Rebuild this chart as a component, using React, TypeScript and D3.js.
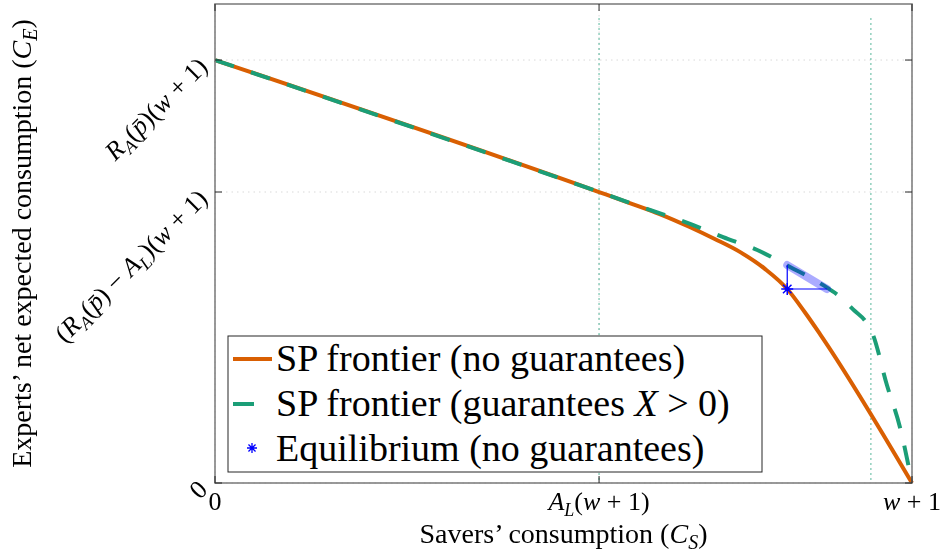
import React from 'react';
import * as d3 from 'd3';

// ---- data (normalised units: x in [0, w+1], y in expert consumption units) ----
const spNoGuarX = [0, 0.551, 0.595, 0.638, 0.681, 0.717, 0.753, 0.789, 0.821, 0.846, 0.868, 1.0];
const spNoGuarY = [1.766, 1.215, 1.169, 1.123, 1.069, 1.019, 0.965, 0.894, 0.810, 0.714, 0.622, 0];
const spGuarX = [0, 0.551, 0.588, 0.624, 0.674, 0.729, 0.778, 0.825, 0.872, 0.897, 0.918, 0.933, 0.943, 0.964, 0.983, 1.0];
const spGuarY = [1.766, 1.215, 1.177, 1.140, 1.090, 1.027, 0.973, 0.902, 0.827, 0.777, 0.718, 0.676, 0.626, 0.409, 0.230, 0];
const equilibrium = [0.821, 0.810];
const triangleTop = [0.821, 0.910];
const triangleRight = [0.878, 0.810];
const refLineX = [0.551, 0.941];
const refLineTop = 1.94;

const xTicks = [0, 0.551, 1];
const xTickLabels = ['0', '$A_L(w+1)$', '$w+1$'];
const yTicks = [0, 1.215, 1.766];
const yTickLabels = ['0', '$(R_A(p\u0304)\u2212A_L)(w+1)$', '$R_A(p\u0304)(w+1)$'];
const xLabel = 'Savers\u2019 consumption ($C_S$)';
const yLabel = 'Experts\u2019 net expected consumption ($C_E$)';
const legendLabels = ['SP frontier (no guarantees)', 'SP frontier (guarantees $X>0$)', 'Equilibrium (no guarantees)'];

const ORANGE = '#d95f02';
const GREEN = '#1b9e77';
const BLUE = '#0000ff';
const F = "'Liberation Serif'";

type Tok = { t: string; it: boolean; sub: boolean };
function tokenize(str: string): Tok[] {
  const out: Tok[] = [];
  let math = false;
  let buf = '';
  const flush = () => { if (buf) { out.push({ t: buf, it: false, sub: false }); buf = ''; } };
  for (let i = 0; i < str.length; i++) {
    const c = str[i];
    if (c === '$') { flush(); math = !math; continue; }
    if (!math) { buf += c; continue; }
    if (c === '_') { const n = str[i + 1]; i++; flush(); out.push({ t: n, it: /[A-Za-z]/.test(n), sub: true }); continue; }
    if (/[A-Za-z]/.test(c)) {
      flush();
      let t = c;
      if (str[i + 1] === '\u0304') { t += '\u0304'; i++; }
      out.push({ t, it: true, sub: false });
      continue;
    }
    if (c === '+' || c === '\u2212' || c === '>') { buf += ' ' + c + ' '; continue; }
    buf += c;
  }
  flush();
  return out;
}

function Rich({ str, fs, ...rest }: any) {
  const toks = tokenize(str);
  let cur = 0;
  const sub = fs * 0.22;
  return (
    <text {...rest} className="lbl" fontFamily="Liberation Serif" fontSize={fs} fill="#000" style={{ fontFamily: F }}>
      {toks.map((k, i) => {
        const target = k.sub ? sub : 0;
        const dy = target - cur;
        cur = target;
        return (
          <tspan key={i} dy={dy !== 0 ? dy : undefined} fontFamily="Liberation Serif" fontStyle={k.it ? 'italic' : 'normal'} fontSize={k.sub ? Math.round(fs * 0.7) : fs}>
            {k.t}
          </tspan>
        );
      })}
    </text>
  );
}

function starPath(cx: number, cy: number, r: number) {
  const d = r * 0.7071;
  return `M${cx - r},${cy}L${cx + r},${cy}M${cx},${cy - r}L${cx},${cy + r}M${cx - d},${cy - d}L${cx + d},${cy + d}M${cx - d},${cy + d}L${cx + d},${cy - d}`;
}

export default function App() {
  const W = 941, H = 552;
  const L = 215, R = 912, T = 4, B = 483;
  const x = d3.scaleLinear().domain([0, 1]).range([L, R]);
  const y = d3.scaleLinear().domain([0, 2]).range([B, T]);

  const line = d3.line<[number, number]>().x(d => x(d[0])).y(d => y(d[1])).curve(d3.curveMonotoneX);
  const orangePts = spNoGuarX.map((v, i) => [v, spNoGuarY[i]] as [number, number]);
  const greenPts = spGuarX.map((v, i) => [v, spGuarY[i]] as [number, number]);

  const tickLen = 7;
  const axisColor = '#808080';
  const tickColor = '#262626';

  return (
    <svg id="chart" width={W} height={H} fontFamily="Liberation Serif" style={{ position: 'fixed', left: 0, top: 0, fontFamily: F }}>
      <style>{`svg#chart text.lbl, svg#chart text.lbl tspan { font-family: 'Liberation Serif', serif !important; }`}</style>
      {yTicks.map((t, i) => (
        <line key={'gy' + i} x1={L} x2={R} y1={y(t)} y2={y(t)} stroke="#d9d9d9" strokeWidth={1} strokeDasharray="1.5,4" />
      ))}
      {xTicks.map((t, i) => (
        <line key={'gx' + i} x1={x(t)} x2={x(t)} y1={T} y2={B} stroke="#d9d9d9" strokeWidth={1} strokeDasharray="1.5,4" />
      ))}
      {refLineX.map((v, i) => (
        <line key={'rl' + i} x1={x(v)} x2={x(v)} y1={y(refLineTop)} y2={y(0)} stroke={GREEN} strokeOpacity={0.75} strokeWidth={1.3} strokeDasharray="1.5,3.5" />
      ))}
      <path d={line(orangePts) || ''} fill="none" stroke={ORANGE} strokeWidth={4} strokeLinejoin="round" />
      <path d={line(greenPts) || ''} fill="none" stroke={GREEN} strokeWidth={4} strokeDasharray="20,18" />
      <line x1={x(triangleTop[0])} y1={y(triangleTop[1])} x2={x(triangleRight[0])} y2={y(triangleRight[1])} stroke={BLUE} strokeOpacity={0.33} strokeWidth={8} strokeLinecap="round" />
      <line x1={x(equilibrium[0])} y1={y(equilibrium[1])} x2={x(triangleTop[0])} y2={y(triangleTop[1])} stroke={BLUE} strokeWidth={1.2} />
      <line x1={x(equilibrium[0])} y1={y(equilibrium[1])} x2={x(triangleRight[0])} y2={y(triangleRight[1])} stroke={BLUE} strokeWidth={1.2} />
      <path d={starPath(x(equilibrium[0]), y(equilibrium[1]), 6)} stroke={BLUE} strokeWidth={1.5} fill="none" />
      <rect x={L} y={T} width={R - L} height={B - T} fill="none" stroke={axisColor} strokeWidth={1.6} />
      {xTicks.map((t, i) => (
        <g key={'xt' + i}>
          <line x1={x(t)} x2={x(t)} y1={B} y2={B - tickLen} stroke={tickColor} strokeWidth={1} />
          <line x1={x(t)} x2={x(t)} y1={T} y2={T + tickLen} stroke={tickColor} strokeWidth={1} />
          <Rich x={x(t)} y={510} textAnchor="middle" str={xTickLabels[i]} fs={26} />
        </g>
      ))}
      {yTicks.map((t, i) => (
        <g key={'yt' + i}>
          <line x1={L} x2={L + tickLen} y1={y(t)} y2={y(t)} stroke={tickColor} strokeWidth={1} />
          <line x1={R} x2={R - tickLen} y1={y(t)} y2={y(t)} stroke={tickColor} strokeWidth={1} />
          <Rich transform={`translate(${L - 6},${y(t) + 8}) rotate(-45)`} textAnchor="end" str={yTickLabels[i]} fs={26} />
        </g>
      ))}
      <Rich x={(L + R) / 2} y={543} textAnchor="middle" str={xLabel} fs={28} />
      <Rich transform={`translate(31,${(T + B) / 2}) rotate(-90)`} textAnchor="middle" str={yLabel} fs={28} />
      <rect x={228} y={336} width={534} height={136} fill="#fff" stroke={tickColor} strokeWidth={1} />
      <line x1={233} x2={272} y1={359} y2={359} stroke={ORANGE} strokeWidth={4} />
      <line x1={233} x2={254} y1={404} y2={404} stroke={GREEN} strokeWidth={4} />
      <path d={starPath(252, 448, 5)} stroke={BLUE} strokeWidth={1.3} fill="none" />
      {legendLabels.map((lab, i) => (
        <Rich key={'lg' + i} x={276} y={371 + i * 45} str={lab} fs={38} />
      ))}
    </svg>
  );
}
